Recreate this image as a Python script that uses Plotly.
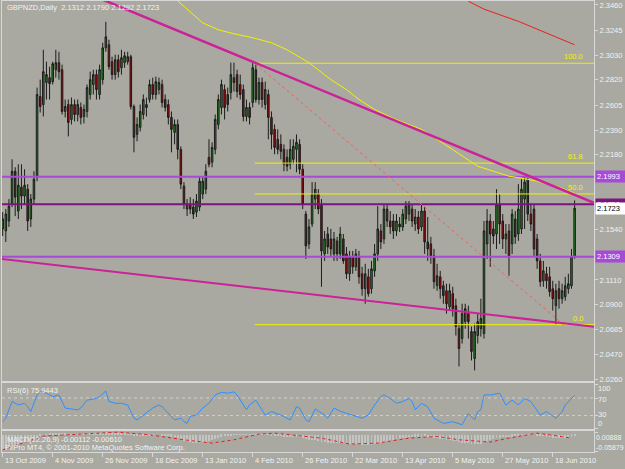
import plotly.graph_objects as go

W, H = 625, 469
def PX(x): return x / W
def PY(y): return 1 - y / H

TITLE = "GBPNZD,Daily  2.1312 2.1790 2.1292 2.1723"

OPEN = [2.1546, 2.1529, 2.1614, 2.1758, 2.2039, 2.1699, 2.1903, 2.1827, 2.1886, 2.1631,
        2.1801, 2.1988, 2.2678, 2.2609, 2.2797, 2.2839, 2.2805, 2.2907, 2.2967, 2.2907,
        2.2550, 2.2609, 2.2482, 2.2609, 2.2524, 2.2584, 2.2507, 2.2550, 2.2695, 2.2780,
        2.2865, 2.2695, 2.2822, 2.3094, 2.3120, 2.2975, 2.2865, 2.2992, 2.2924, 2.2967,
        2.2975, 2.3018, 2.2592, 2.2354, 2.2414, 2.2524, 2.2609, 2.2652, 2.2780, 2.2695,
        2.2737, 2.2780, 2.2652, 2.2609, 2.2499, 2.2371, 2.2439, 2.2226, 2.1912, 2.1716,
        2.1758, 2.1733, 2.1690, 2.1733, 2.1844, 2.1886, 2.2158, 2.2116, 2.2226, 2.2439,
        2.2584, 2.2737, 2.2695, 2.2712, 2.2839, 2.2865, 2.2780, 2.2737, 2.2507, 2.2584,
        2.2626, 2.2907, 2.2652, 2.2797, 2.2609, 2.2695, 2.2499, 2.2397, 2.2312, 2.2269,
        2.2226, 2.2158, 2.2099, 2.2141, 2.2226, 2.2269, 2.2056, 2.1673, 2.1418, 2.1588,
        2.1801, 2.1844, 2.1758, 2.1333, 2.1503, 2.1461, 2.1333, 2.1444, 2.1333, 2.1461,
        2.1333, 2.1163, 2.1307, 2.1222, 2.1307, 2.1163, 2.1035, 2.1137, 2.1035, 2.1188,
        2.1333, 2.1529, 2.1461, 2.1716, 2.1614, 2.1614, 2.1529, 2.1588, 2.1563, 2.1631,
        2.1673, 2.1716, 2.1588, 2.1648, 2.1563, 2.1699, 2.1435, 2.1418, 2.1316, 2.1061,
        2.1137, 2.1061, 2.1018, 2.0882, 2.0993, 2.0890, 2.0694, 2.0609, 2.0754, 2.0822,
        2.0669, 2.0439, 2.0635, 2.0694, 2.0652, 2.1418, 2.1614, 2.1546, 2.1503, 2.1758,
        2.1614, 2.1461, 2.1529, 2.1418, 2.1631, 2.1503, 2.1546, 2.1801, 2.1971, 2.1673,
        2.1716, 2.1461, 2.1273, 2.1103, 2.1163, 2.1137, 2.1035, 2.0890, 2.1035, 2.0950,
        2.0967, 2.1035, 2.1061, 2.1312]
HIGH = [2.1690, 2.1716, 2.1801, 2.2141, 2.2073, 2.2099, 2.2099, 2.2056, 2.1929, 2.1844,
        2.2039, 2.2754, 2.2822, 2.3077, 2.2975, 2.2933, 2.2975, 2.3077, 2.3060, 2.2950,
        2.2652, 2.2652, 2.2669, 2.2652, 2.2652, 2.2626, 2.2609, 2.2780, 2.2890, 2.2907,
        2.2907, 2.2950, 2.3137, 2.3316, 2.3163, 2.3018, 2.3035, 2.3035, 2.3077, 2.3060,
        2.3060, 2.3035, 2.2609, 2.2499, 2.2609, 2.2695, 2.2669, 2.2822, 2.2839, 2.2848,
        2.2839, 2.2822, 2.2695, 2.2652, 2.2550, 2.2482, 2.2482, 2.2252, 2.1946, 2.1801,
        2.1818, 2.1801, 2.1844, 2.1988, 2.1988, 2.2099, 2.2312, 2.2286, 2.2524, 2.2695,
        2.2822, 2.2780, 2.2754, 2.2967, 2.2967, 2.2907, 2.2865, 2.2780, 2.2652, 2.2626,
        2.2962, 2.2950, 2.2839, 2.2839, 2.2805, 2.2737, 2.2550, 2.2439, 2.2397, 2.2354,
        2.2269, 2.2226, 2.2312, 2.2312, 2.2354, 2.2312, 2.2099, 2.1699, 2.1631, 2.1946,
        2.1946, 2.1886, 2.1801, 2.1529, 2.1563, 2.1546, 2.1520, 2.1478, 2.1563, 2.1503,
        2.1392, 2.1358, 2.1358, 2.1375, 2.1358, 2.1222, 2.1248, 2.1205, 2.1273, 2.1418,
        2.1741, 2.1588, 2.1758, 2.1758, 2.1699, 2.1673, 2.1673, 2.1648, 2.1716, 2.1784,
        2.1784, 2.1758, 2.1716, 2.1699, 2.1758, 2.1733, 2.1648, 2.1478, 2.1375, 2.1248,
        2.1188, 2.1103, 2.1078, 2.1078, 2.1052, 2.0950, 2.0737, 2.0907, 2.0907, 2.0890,
        2.0712, 2.0737, 2.0822, 2.0950, 2.1614, 2.1716, 2.1673, 2.1614, 2.1886, 2.1844,
        2.1673, 2.1588, 2.1588, 2.1716, 2.1699, 2.1929, 2.1971, 2.1993, 2.1980, 2.1758,
        2.1758, 2.1503, 2.1333, 2.1273, 2.1222, 2.1222, 2.1103, 2.1078, 2.1103, 2.1078,
        2.1137, 2.1163, 2.1375, 2.1790]
LOW = [2.1486, 2.1435, 2.1563, 2.1733, 2.1656, 2.1631, 2.1716, 2.1758, 2.1529, 2.1563,
       2.1758, 2.1954, 2.2541, 2.2507, 2.2652, 2.2652, 2.2780, 2.2839, 2.2822, 2.2524,
       2.2499, 2.2337, 2.2439, 2.2465, 2.2465, 2.2439, 2.2448, 2.2499, 2.2652, 2.2695,
       2.2652, 2.2652, 2.2780, 2.3060, 2.2907, 2.2822, 2.2822, 2.2839, 2.2865, 2.2924,
       2.2950, 2.2567, 2.2201, 2.2295, 2.2380, 2.2482, 2.2507, 2.2626, 2.2652, 2.2652,
       2.2695, 2.2584, 2.2550, 2.2439, 2.2201, 2.2269, 2.2141, 2.1886, 2.1716, 2.1656,
       2.1673, 2.1631, 2.1648, 2.1699, 2.1801, 2.1844, 2.2073, 2.2073, 2.2184, 2.2397,
       2.2524, 2.2482, 2.2550, 2.2652, 2.2720, 2.2669, 2.2652, 2.2465, 2.2465, 2.2439,
       2.2584, 2.2626, 2.2609, 2.2584, 2.2567, 2.2312, 2.2226, 2.2184, 2.2184, 2.2141,
       2.2039, 2.2039, 2.2056, 2.2099, 2.2031, 2.2014, 2.1716, 2.1290, 2.1375, 2.1563,
       2.1716, 2.1673, 2.1052, 2.1273, 2.1333, 2.1316, 2.1273, 2.1273, 2.1290, 2.1248,
       2.1120, 2.1103, 2.1163, 2.1188, 2.1078, 2.0976, 2.0907, 2.0967, 2.0993, 2.1137,
       2.1273, 2.1375, 2.1418, 2.1563, 2.1503, 2.1461, 2.1486, 2.1520, 2.1529, 2.1588,
       2.1614, 2.1563, 2.1529, 2.1503, 2.1529, 2.1333, 2.1273, 2.1248, 2.1035, 2.1018,
       2.0950, 2.0907, 2.0822, 2.0848, 2.0797, 2.0635, 2.0371, 2.0567, 2.0694, 2.0609,
       2.0422, 2.0337, 2.0567, 2.0626, 2.0609, 2.1290, 2.1222, 2.1418, 2.1375, 2.1418,
       2.1375, 2.1333, 2.1146, 2.1333, 2.1418, 2.1444, 2.1503, 2.1546, 2.1614, 2.1529,
       2.1307, 2.1205, 2.1052, 2.1052, 2.1035, 2.0967, 2.0848, 2.0728, 2.0865, 2.0907,
       2.0933, 2.0993, 2.1035, 2.1292]
CLOSE = [2.1631, 2.1673, 2.1741, 2.2039, 2.1818, 2.1920, 2.1827, 2.1920, 2.1614, 2.1801,
         2.1971, 2.2695, 2.2592, 2.2890, 2.2865, 2.2788, 2.2958, 2.2967, 2.2890, 2.2550,
         2.2592, 2.2456, 2.2609, 2.2524, 2.2609, 2.2499, 2.2567, 2.2754, 2.2822, 2.2865,
         2.2737, 2.2907, 2.3094, 2.3188, 2.2933, 2.2865, 2.2992, 2.2890, 2.3009, 2.3026,
         2.3018, 2.2592, 2.2329, 2.2439, 2.2550, 2.2652, 2.2584, 2.2780, 2.2695, 2.2805,
         2.2797, 2.2626, 2.2584, 2.2499, 2.2397, 2.2439, 2.2226, 2.1929, 2.1758, 2.1758,
         2.1716, 2.1673, 2.1784, 2.1954, 2.1954, 2.2039, 2.2099, 2.2243, 2.2482, 2.2652,
         2.2780, 2.2584, 2.2609, 2.2865, 2.2797, 2.2720, 2.2695, 2.2507, 2.2584, 2.2499,
         2.2924, 2.2652, 2.2797, 2.2652, 2.2737, 2.2499, 2.2354, 2.2243, 2.2226, 2.2209,
         2.2099, 2.2082, 2.2226, 2.2252, 2.2286, 2.2056, 2.1758, 2.1401, 2.1563, 2.1844,
         2.1886, 2.1716, 2.1358, 2.1461, 2.1392, 2.1375, 2.1461, 2.1333, 2.1503, 2.1273,
         2.1163, 2.1307, 2.1222, 2.1333, 2.1137, 2.1035, 2.1163, 2.0993, 2.1205, 2.1333,
         2.1546, 2.1435, 2.1716, 2.1614, 2.1563, 2.1529, 2.1614, 2.1563, 2.1673, 2.1741,
         2.1758, 2.1614, 2.1648, 2.1546, 2.1699, 2.1435, 2.1375, 2.1316, 2.1095, 2.1146,
         2.1035, 2.0976, 2.0907, 2.1018, 2.0865, 2.0712, 2.0524, 2.0822, 2.0865, 2.0754,
         2.0499, 2.0669, 2.0754, 2.0780, 2.1529, 2.1614, 2.1503, 2.1486, 2.1758, 2.1588,
         2.1461, 2.1503, 2.1307, 2.1673, 2.1478, 2.1716, 2.1886, 2.1946, 2.1673, 2.1588,
         2.1375, 2.1273, 2.1095, 2.1188, 2.1103, 2.1010, 2.0950, 2.1018, 2.0950, 2.1018,
         2.1061, 2.1078, 2.1308, 2.1723]
N = len(CLOSE)
BARS = list(range(N))

DATE_TICK_BARS = [0, 16, 32, 48, 64, 80, 96, 112, 128, 144, 160, 176]
DATE_TICK_LABELS = ["13 Oct 2009", "4 Nov 2009", "26 Nov 2009", "18 Dec 2009", "13 Jan 2010",
                    "4 Feb 2010", "26 Feb 2010", "22 Mar 2010", "13 Apr 2010", "5 May 2010",
                    "27 May 2010", "18 Jun 2010"]
# right-axis price labels that are visible (the rest sit under the price boxes)
PRICE_TICKS = [2.3460, 2.3245, 2.3030, 2.2820, 2.2605, 2.2390, 2.2180,
               2.1540, 2.1110, 2.0900, 2.0685, 2.0470, 2.0260]

# moving averages
MA_YELLOW_BARS = [56, 60, 64, 69, 74, 80, 86, 91, 95, 98, 105, 110, 114, 119, 125, 134, 139, 144, 152, 158, 162, 166, 171, 178, 183]
MA_YELLOW_VALUES = [2.3495, 2.3401, 2.3307, 2.3248, 2.3214, 2.3180, 2.3137, 2.3077, 2.3018, 2.2967, 2.2822, 2.2737,
                    2.2652, 2.2567, 2.2490, 2.2397, 2.2312, 2.2226, 2.2082, 2.2031, 2.1997, 2.1980, 2.1954, 2.1903, 2.1852]
MA_RED_BARS = [149, 154, 165, 174, 183]
MA_RED_VALUES = [2.3492, 2.3424, 2.3320, 2.3222, 2.3120]

# chart objects
UPPER_TREND_BARS = [20, 190]
UPPER_TREND_PRICES = [2.3638, 2.1760]
LOWER_TREND_BARS = [-0.2, 190]
LOWER_TREND_PRICES = [2.1290, 2.0708]
FIB_BARS = [80.7, 179.5]
FIB_HIGH, FIB_LOW = 2.2962, 2.0728
FIB_LEVELS = [1.0, 0.618, 0.5, 0.0]
FIB_LABELS = ["100.0", "61.8", "50.0", "0.0"]
HLINE_LIGHT = [2.1993, 2.1309]
HLINE_DARK = [2.1758]
BID = 2.1723

RSI_BARS = [0, 1, 3, 5, 7, 8, 9, 11, 12, 14, 16, 18, 20, 22, 24, 25, 27, 30, 31, 33, 34, 36, 38, 40, 42, 43, 45, 47, 48,
            50, 51, 52, 55, 57, 58, 59, 60, 62, 64, 66, 68, 70, 72, 74, 75, 78, 79, 81, 82, 84, 86, 89, 92, 94, 95, 97,
            98, 100, 103, 104, 106, 108, 110, 112, 115, 117, 119, 121, 122, 124, 126, 128, 130, 131, 132, 134, 136,
            138, 141, 144, 147, 149, 151, 152, 153, 154, 156, 159, 161, 163, 165, 167, 169, 172, 174, 177, 179, 180,
            181, 183]
RSI_VALUES = [16, 24, 62, 54, 58, 50, 39, 77, 84, 81, 73, 77, 47, 45, 43, 47, 65, 69, 73, 86, 62, 58, 58, 54, 24, 20, 31,
              43, 47, 54, 50, 43, 20, 24, 16, 12, 28, 31, 47, 58, 77, 83, 81, 84, 77, 43, 54, 65, 54, 31, 39, 31, 20, 50,
              47, 20, 16, 45, 31, 24, 47, 40, 35, 31, 24, 31, 54, 73, 77, 69, 58, 62, 69, 62, 43, 58, 50, 24, 12, 16, 9,
              35, 20, 39, 43, 77, 77, 81, 54, 65, 54, 69, 62, 31, 39, 24, 39, 54, 62, 75.94]
RSI_LEVELS = [70, 30]
RSI_TICKS = [100, 70, 30, 0]
RSI_TICK_SHIFT = [-4, -1.5, 1, 5]   # label offset from its tick, px (positive = up)

MACD_MAIN = [-0.055, -0.050, -0.046, -0.040, -0.036, -0.032, -0.028, -0.025, -0.024, -0.021,
             -0.018, -0.010, -0.004, 0.000, 0.003, 0.005, 0.006, 0.007, 0.008, 0.006,
             0.005, 0.003, 0.003, 0.002, 0.002, 0.001, 0.001, 0.002, 0.004, 0.005,
             0.005, 0.006, 0.008, 0.009, 0.008, 0.007, 0.007, 0.006, 0.006, 0.006,
             0.006, 0.003, -0.001, -0.003, -0.003, -0.002, -0.002, -0.001, -0.001, 0.000,
             0.000, -0.001, -0.002, -0.004, -0.006, -0.008, -0.011, -0.016, -0.020, -0.023,
             -0.025, -0.027, -0.028, -0.027, -0.026, -0.024, -0.022, -0.019, -0.015, -0.011,
             -0.007, -0.005, -0.004, -0.001, 0.001, 0.002, 0.002, 0.001, 0.001, 0.001,
             0.003, 0.003, 0.003, 0.003, 0.003, 0.001, -0.001, -0.003, -0.004, -0.005,
             -0.007, -0.008, -0.008, -0.008, -0.007, -0.008, -0.011, -0.016, -0.019, -0.019,
             -0.019, -0.020, -0.024, -0.026, -0.027, -0.028, -0.028, -0.029, -0.029, -0.030,
             -0.032, -0.032, -0.033, -0.033, -0.034, -0.035, -0.035, -0.036, -0.035, -0.033,
             -0.030, -0.028, -0.025, -0.022, -0.020, -0.018, -0.016, -0.014, -0.012, -0.010,
             -0.008, -0.008, -0.007, -0.007, -0.006, -0.007, -0.008, -0.009, -0.011, -0.012,
             -0.014, -0.016, -0.018, -0.019, -0.021, -0.023, -0.026, -0.027, -0.028, -0.029,
             -0.031, -0.032, -0.032, -0.032, -0.026, -0.021, -0.018, -0.016, -0.012, -0.010,
             -0.009, -0.008, -0.008, -0.006, -0.005, -0.003, -0.001, 0.001, 0.001, 0.001,
             0.000, -0.002, -0.004, -0.005, -0.006, -0.008, -0.010, -0.011, -0.011, -0.011,
             -0.010, -0.009, -0.006, -0.00112]
MACD_SIGNAL_BARS = [0, 10, 13, 37, 47, 58, 67, 74, 82, 87, 95, 102, 111, 120, 130, 139, 146, 156, 162, 171, 175, 182]
MACD_SIGNAL_VALUES = [-0.0541, -0.0185, -0.0054, 0.0089, -0.0007, -0.0185, -0.0303, -0.0185, 0.0018, 0.0053, -0.0054,
                      -0.0125, -0.0338, -0.0303, -0.0125, -0.0064, -0.0185, -0.0267, -0.0125, 0.0053, -0.0007, -0.0125]
MACD_TICKS = [0.00888, -0.05879]
MACD_TICK_TEXT = ["0.00888", "-0.05879"]
MACD_TICK_SHIFT = [-5, 4]

BG = "#A9A9A1"
FRAME = "#D8D8D8"
TXT = "#F2F2F2"
FONT = "Liberation Sans"
FS = 7.5
XMIN, XMAX = -0.22, 189.2

fig = go.Figure()
fig.add_trace(go.Candlestick(
    x=BARS, open=OPEN, high=HIGH, low=LOW, close=CLOSE, xaxis="x", yaxis="y",
    increasing=dict(fillcolor="#1E8C1E", line=dict(color="#1C1C1C", width=1)),
    decreasing=dict(fillcolor="#B00000", line=dict(color="#1C1C1C", width=1)),
    whiskerwidth=0, showlegend=False, hoverinfo="skip"))

def line(x, y, color, width, dash="solid", ax=("x", "y")):
    fig.add_trace(go.Scatter(x=x, y=y, mode="lines", xaxis=ax[0], yaxis=ax[1],
                             line=dict(color=color, width=width, dash=dash),
                             showlegend=False, hoverinfo="skip"))

for v in HLINE_LIGHT:
    line([XMIN, XMAX], [v, v], "#A64BD8", 2)
for v in HLINE_DARK:
    line([XMIN, XMAX], [v, v], "#7D1580", 2)
line(MA_YELLOW_BARS, MA_YELLOW_VALUES, "#F2F200", 1)
line(MA_RED_BARS, MA_RED_VALUES, "#E82020", 1)
for lv in FIB_LEVELS:
    p = FIB_LOW + lv * (FIB_HIGH - FIB_LOW)
    line([FIB_BARS[0], XMAX + 5], [p, p], "#F2F200", 1)
line(FIB_BARS, [FIB_HIGH, FIB_LOW], "#F06060", 1, "dot")
line(UPPER_TREND_BARS, UPPER_TREND_PRICES, "#CC2299", 2.5)
line(LOWER_TREND_BARS, LOWER_TREND_PRICES, "#CC2299", 2)

# RSI
for v in RSI_LEVELS:
    line([XMIN, XMAX], [v, v], "#D0D0D0", 1, "dot", ("x2", "y2"))
line(RSI_BARS, RSI_VALUES, "#2E8FFF", 1, "solid", ("x2", "y2"))
# MACD
fig.add_trace(go.Bar(x=BARS, y=MACD_MAIN, xaxis="x3", yaxis="y3", width=0.3,
                     marker=dict(color="#C4C4C4", line=dict(width=0)), showlegend=False, hoverinfo="skip"))
line(MACD_SIGNAL_BARS, MACD_SIGNAL_VALUES, "#E02020", 1, "dot", ("x3", "y3"))

ax_common = dict(showgrid=False, zeroline=False, showline=True, mirror=True, linecolor=FRAME, linewidth=1)
xdom = [PX(2), PX(594)]
fig.update_layout(
    width=W, height=H, margin=dict(l=0, r=0, t=0, b=0),
    paper_bgcolor=BG, plot_bgcolor=BG, showlegend=False, bargap=0,
    font=dict(family=FONT, size=FS, color=TXT),
    xaxis=dict(domain=xdom, range=[XMIN, XMAX], anchor="y", showticklabels=False, ticks="",
               rangeslider=dict(visible=False), **ax_common),
    yaxis=dict(domain=[PY(384), PY(1)], range=[2.0235, 2.3494], side="right", anchor="x",
               tickvals=PRICE_TICKS, ticktext=[f"{v:.4f}" for v in PRICE_TICKS],
               ticks="outside", ticklen=3, tickcolor=FRAME, tickfont=dict(size=FS, color=TXT), **ax_common),
    xaxis2=dict(domain=xdom, range=[XMIN, XMAX], anchor="y2", matches="x", showticklabels=False, ticks="", **ax_common),
    yaxis2=dict(domain=[PY(431), PY(384)], range=[-1.1, 105.7], side="right", anchor="x2",
                tickvals=RSI_TICKS, showticklabels=False, ticks="outside", ticklen=3, tickcolor=FRAME, **ax_common),
    xaxis3=dict(domain=xdom, range=[XMIN, XMAX], anchor="y3", matches="x", showticklabels=False,
                tickvals=DATE_TICK_BARS, ticks="outside", ticklen=4, tickcolor=FRAME, **ax_common),
    yaxis3=dict(domain=[PY(453.5), PY(432.5)], range=[-0.0606, 0.0142], side="right", anchor="x3",
                tickvals=MACD_TICKS, showticklabels=False, ticks="outside", ticklen=3, tickcolor=FRAME, **ax_common),
)

ann = []
def text(t, x, y, xref="paper", yref="paper", xanchor="left", yanchor="middle", color=TXT, size=FS, **kw):
    ann.append(dict(text=t, x=x, y=y, xref=xref, yref=yref, xanchor=xanchor, yanchor=yanchor,
                    showarrow=False, font=dict(size=size, color=color), **kw))

text(TITLE, PX(5), PY(8))
text("RSI(6) 75.9443", PX(5), PY(392))
text("MACD(12,26,9) -0.00112 -0.00610", PX(5), PY(441))
text("FxPro MT4, © 2001-2010 MetaQuotes Software Corp.", PX(3), PY(449.5))
for b, t in zip(DATE_TICK_BARS, DATE_TICK_LABELS):
    text(t, b, PY(462.5), xref="x3")
for lv, lab in zip(FIB_LEVELS, FIB_LABELS):
    p = FIB_LOW + lv * (FIB_HIGH - FIB_LOW)
    text(lab, 186.2, p, xref="x", yref="y", xanchor="right", yanchor="bottom", color="#F2F200")
for v, s in zip(RSI_TICKS, RSI_TICK_SHIFT):
    text(str(v), PX(596), v, yref="y2", yshift=s)
for v, t, s in zip(MACD_TICKS, MACD_TICK_TEXT, MACD_TICK_SHIFT):
    text(t, PX(595), v, yref="y3", yshift=s, size=7, borderpad=0)
for v, bg, fc in [(2.1993, "#A64BD8", "#FFFFFF"), (2.1758, "#7D1580", "#FFFFFF"),
                  (2.1309, "#A64BD8", "#FFFFFF"), (BID, "#FFFFFF", "#000000")]:
    text(f"{v:.4f}", PX(595), v, yref="y", color=fc, bgcolor=bg, borderpad=1, width=27, align="left")
fig.update_layout(annotations=ann)

fig.write_html("out.html")
